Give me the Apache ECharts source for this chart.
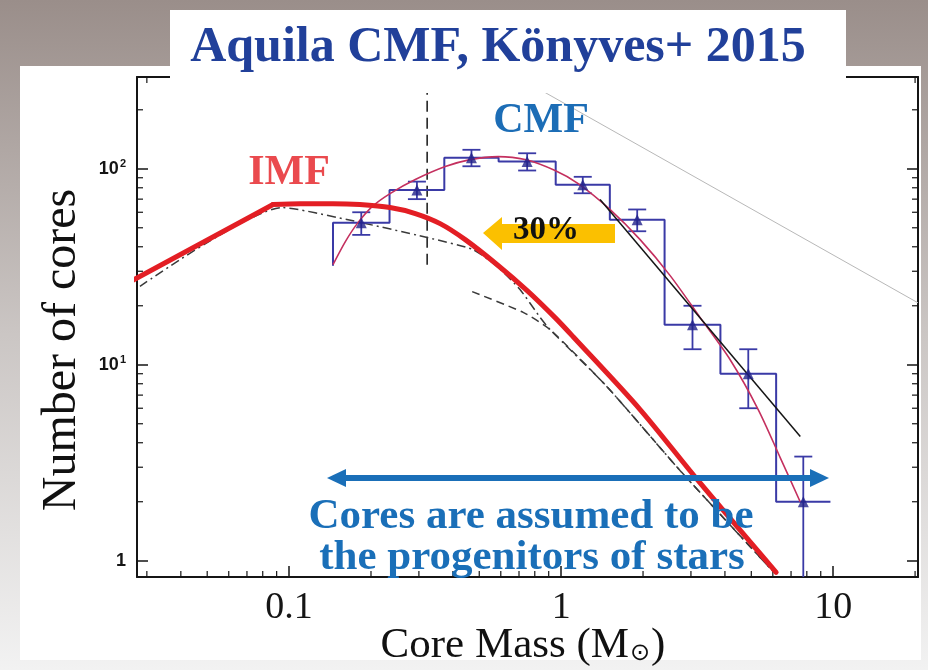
<!DOCTYPE html>
<html>
<head>
<meta charset="utf-8">
<script src="https://cdn.jsdelivr.net/npm/echarts@6/dist/echarts.min.js"></script>
<style>
  html, body { margin: 0; padding: 0; }
  #chart { width: 928px; height: 670px; }
</style>
</head>
<body>
<div id="chart"></div>
<script>
// Aquila prestellar core mass function (CMF) compared with the stellar IMF.

// Histogram: bin edges in solar masses and number of cores per bin
const binEdges  = [0.145, 0.234, 0.372, 0.589, 0.955, 1.51, 2.40, 3.85, 6.17, 9.77];
const binCounts = [53, 78, 114, 109, 83, 55, 16, 9, 2];
const binErrors = [7, 8, 11, 11, 8, 7, 4, 3, 1.4];
// count at which the left edge of the first bin starts
const histStartCount = 32;

// Lognormal fit to the CMF
const fitMass  = [0.145, 0.161, 0.178, 0.202, 0.235, 0.291, 0.375, 0.463, 0.587, 0.737, 0.950, 1.155, 1.514, 1.951, 2.516, 3.244, 4.181, 5.301, 6.385, 7.561];
const fitCount = [32.4, 42.5, 52.5, 64.1, 74.7, 88.1, 102.6, 111.4, 115.4, 111.4, 97.9, 84.0, 61.9, 43.5, 28.5, 17.4, 10.6, 5.91, 3.36, 2.00];

// Power-law fit to the high-mass end of the CMF
const powerMass  = [1.39, 7.57];
const powerCount = [69.7, 4.3];

// Stellar IMF (thick red curve); the first point is the low-mass end, the second the knee
const imfMass  = [0.0256, 0.0873, 0.110, 0.145, 0.182, 0.235, 0.291, 0.359, 0.444, 0.582, 0.750, 0.950, 1.107, 1.951, 3.162, 6.17];
const imfCount = [26.2, 65.7, 66.4, 66.4, 65.7, 63.4, 59.1, 52.5, 43.5, 32.4, 23.9, 17.4, 13.9, 5.91, 2.60, 0.873];
const imfKnee = 1;

// System IMF (dash-dot) and single-star IMF (dashed)
const sysMass   = [0.0283, 0.0942, 0.163, 0.322, 0.474, 0.582, 0.706, 0.838, 0.911, 1.476, 2.74, 6.02];
const sysCount  = [25.1, 63.4, 55.1, 44.6, 38.7, 31.7, 24.2, 17.4, 15.1, 7.71, 2.88, 0.88];
const starMass  = [0.471, 0.725, 0.911, 1.476, 2.74, 6.02];
const starCount = [23.6, 18.5, 15.1, 7.71, 2.88, 0.88];

// Vertical dashed marker (completeness limit)
const limitMass  = 0.3217;
const limitCount = [32.4, 245];

// Faint reference slope in the upper right
const refMass  = [0.873, 20.5];
const refCount = [245, 20.7];

// Axes
const xRange = [0.0276, 20.5];
const yRange = [0.826, 294];
const xTickValues = [0.1, 1, 10];
const xTickLabels = ['0.1', '1', '10'];
const yTickValues = [1, 10, 100];
const yTickLabels = ['{b|1}', '{b|10}{s|1}', '{b|10}{s|2}'];
const xMinorTicks = [0.03, 0.04, 0.05, 0.06, 0.07, 0.08, 0.09, 0.2, 0.3, 0.4, 0.5, 0.6, 0.7, 0.8, 0.9, 2, 3, 4, 5, 6, 7, 8, 9, 20];
const yMinorTicks = [2, 3, 4, 5, 6, 7, 8, 9, 20, 30, 40, 50, 60, 70, 80, 90, 200];

const zip = (a, b) => a.map((v, i) => [v, b[i]]);

// step outline of the histogram
const histLine = [[binEdges[0], histStartCount]];
binCounts.forEach((n, i) => {
  histLine.push([binEdges[i], n]);
  histLine.push([binEdges[i + 1], n]);
});
const binCenters = binCounts.map((n, i) => Math.sqrt(binEdges[i] * binEdges[i + 1]));

const imfPoints = zip(imfMass, imfCount);
const imfRise = imfPoints.slice(0, imfKnee + 1);
const imfFall = imfPoints.slice(imfKnee);

function tickLabel(values, labels) {
  return function (v) {
    for (let i = 0; i < values.length; i++) {
      if (Math.abs(Math.log10(v) - Math.log10(values[i])) < 1e-6) return labels[i];
    }
    return '';
  };
}

const SERIF = '"Liberation Serif", "Times New Roman", serif';
const SANS = '"Liberation Sans", Arial, sans-serif';
const INK = '#151515';
const HIST = '#3a3aa6';
const IMF_RED = '#e31e24';

function frameAxis(range, extra) {
  return Object.assign({
    type: 'log',
    logBase: 10,
    min: range[0],
    max: range[1],
    axisLine: { show: true, onZero: false, lineStyle: { color: INK, width: 2 } },
    axisTick: { show: true, inside: true, length: 11, lineStyle: { color: INK, width: 1.5 } },
    splitLine: { show: false },
    minorTick: { show: false }
  }, extra);
}

const chart = echarts.init(document.getElementById('chart'), null, { renderer: 'canvas' });

const option = {
  animation: false,
  backgroundColor: {
    type: 'linear', x: 0, y: 0, x2: 0, y2: 1,
    colorStops: [
      { offset: 0, color: '#9a8e8a' },
      { offset: 0.5, color: '#cbc6c4' },
      { offset: 1, color: '#f2f2f2' }
    ]
  },
  grid: { left: 137, top: 77, width: 781, height: 500, containLabel: false },
  xAxis: [
    frameAxis(xRange, {
      position: 'bottom',
      axisLabel: {
        formatter: tickLabel(xTickValues, xTickLabels),
        showMinLabel: false, showMaxLabel: false,
        fontFamily: SERIF, fontSize: 38, color: INK, margin: 12
      }
    }),
    frameAxis(xRange, { position: 'top', axisLabel: { show: false } })
  ],
  yAxis: [
    frameAxis(yRange, {
      position: 'left',
      axisLabel: {
        formatter: tickLabel(yTickValues, yTickLabels),
        showMinLabel: false, showMaxLabel: false,
        margin: 11,
        rich: {
          b: { fontFamily: SANS, fontWeight: 'bold', fontSize: 18, color: INK },
          s: { fontFamily: SANS, fontWeight: 'bold', fontSize: 11, color: INK, padding: [0, 0, 10, 1] }
        }
      }
    }),
    frameAxis(yRange, { position: 'right', axisLabel: { show: false } })
  ],
  series: [
    {
      name: 'refSlope', type: 'line', data: zip(refMass, refCount),
      showSymbol: false, lineStyle: { color: '#b8b8b8', width: 1 }, z: 2
    },
    {
      name: 'limit', type: 'line', data: limitCount.map(c => [limitMass, c]),
      showSymbol: false, lineStyle: { color: INK, width: 1.5, type: [11, 6] }, z: 2
    },
    {
      name: 'systemIMF', type: 'line', data: zip(sysMass, sysCount),
      showSymbol: false, smooth: 0.2,
      lineStyle: { color: '#3a3a3a', width: 1.5, type: [9, 4, 2, 4] }, z: 2
    },
    {
      name: 'singleIMF', type: 'line', data: zip(starMass, starCount),
      showSymbol: false, smooth: 0.2,
      lineStyle: { color: '#3a3a3a', width: 1.5, type: [8, 5] }, z: 2
    },
    {
      name: 'CMF', type: 'line', data: histLine,
      showSymbol: false, lineStyle: { color: HIST, width: 2 }, z: 3
    },
    {
      name: 'errors', type: 'custom', silent: true, z: 3,
      data: binCenters.map((c, i) => [c, binCounts[i], binErrors[i]]),
      renderItem: function (params, api) {
        const cs = params.coordSys;
        const c = api.value(0), n = api.value(1), e = api.value(2);
        const top = api.coord([c, n + e]);
        const lowVal = n - e;
        const hasLow = lowVal > yRange[0];
        const bottomY = hasLow ? api.coord([c, lowVal])[1] : cs.y + cs.height;
        const st = { stroke: HIST, lineWidth: 1.8 };
        const children = [
          { type: 'line', shape: { x1: top[0], y1: top[1], x2: top[0], y2: bottomY }, style: st },
          { type: 'line', shape: { x1: top[0] - 9, y1: top[1], x2: top[0] + 9, y2: top[1] }, style: st }
        ];
        if (hasLow) {
          children.push({ type: 'line', shape: { x1: top[0] - 9, y1: bottomY, x2: top[0] + 9, y2: bottomY }, style: st });
        }
        return { type: 'group', children: children };
      }
    },
    {
      name: 'lognormalFit', type: 'line', data: zip(fitMass, fitCount),
      showSymbol: false, smooth: 0.3,
      lineStyle: { color: '#c4305f', width: 1.6 }, z: 4
    },
    {
      name: 'powerLaw', type: 'line', data: zip(powerMass, powerCount),
      showSymbol: false, lineStyle: { color: INK, width: 1.5 }, z: 4
    },
    {
      name: 'cores', type: 'scatter', data: zip(binCenters, binCounts),
      symbol: 'triangle', symbolSize: 11, itemStyle: { color: '#22228a' }, z: 5
    },
    {
      name: 'IMF', type: 'line', data: imfRise,
      showSymbol: false, clip: false,
      lineStyle: { color: IMF_RED, width: 5, join: 'round', cap: 'round' }, z: 10
    },
    {
      name: 'IMF', type: 'line', data: imfFall,
      showSymbol: false, smooth: 0.3, clip: false,
      lineStyle: { color: IMF_RED, width: 5, cap: 'round' }, z: 10
    },
    {
      name: 'xMinor', type: 'custom', silent: true, z: 1,
      data: xMinorTicks.map(v => [v, 1]),
      renderItem: function (params, api) {
        const cs = params.coordSys;
        const x = api.coord([api.value(0), 1])[0];
        const st = { stroke: INK, lineWidth: 1.2 };
        return { type: 'group', children: [
          { type: 'line', shape: { x1: x, y1: cs.y + cs.height, x2: x, y2: cs.y + cs.height - 6 }, style: st },
          { type: 'line', shape: { x1: x, y1: cs.y, x2: x, y2: cs.y + 6 }, style: st }
        ] };
      }
    },
    {
      name: 'yMinor', type: 'custom', silent: true, z: 1,
      data: yMinorTicks.map(v => [1, v]),
      renderItem: function (params, api) {
        const cs = params.coordSys;
        const y = api.coord([1, api.value(1)])[1];
        const st = { stroke: INK, lineWidth: 1.2 };
        return { type: 'group', children: [
          { type: 'line', shape: { x1: cs.x, y1: y, x2: cs.x + 6, y2: y }, style: st },
          { type: 'line', shape: { x1: cs.x + cs.width, y1: y, x2: cs.x + cs.width - 6, y2: y }, style: st }
        ] };
      }
    }
  ],
  graphic: [
    // white slide panel behind the plot
    { type: 'rect', z: -10, shape: { x: 20, y: 66, width: 901, height: 594 }, style: { fill: '#ffffff' } },
    // title banner
    { type: 'rect', z: 100, shape: { x: 170, y: 10, width: 676, height: 83 }, style: { fill: '#ffffff' } },
    { type: 'text', z: 101, x: 498, y: 48, style: {
        text: 'Aquila CMF, Könyves+ 2015', fill: '#21409a',
        fontFamily: SERIF, fontWeight: 'bold', fontSize: 50, align: 'center', verticalAlign: 'middle' } },
    // curve labels
    { type: 'text', z: 101, x: 541, y: 121, style: {
        text: 'CMF', fill: '#1c6db6', fontFamily: SERIF, fontWeight: 'bold', fontSize: 42,
        align: 'center', verticalAlign: 'middle' } },
    { type: 'text', z: 101, x: 289, y: 173, style: {
        text: 'IMF', fill: '#ea4a4e', fontFamily: SERIF, fontWeight: 'bold', fontSize: 42,
        align: 'center', verticalAlign: 'middle' } },
    // 30% shift arrow
    { type: 'polygon', z: 100, shape: { points: [[483, 233], [502, 217], [502, 224], [615, 224], [615, 243], [502, 243], [502, 250]] },
      style: { fill: '#fbc000' } },
    { type: 'text', z: 101, x: 546, y: 230, style: {
        text: '30%', fill: '#111111', fontFamily: SERIF, fontWeight: 'bold', fontSize: 33,
        align: 'center', verticalAlign: 'middle' } },
    // mass range double arrow
    { type: 'line', z: 100, shape: { x1: 343, y1: 478, x2: 812, y2: 478 }, style: { stroke: '#1a6fb8', lineWidth: 6 } },
    { type: 'polygon', z: 100, shape: { points: [[327, 478], [346, 469], [346, 487]] }, style: { fill: '#1a6fb8' } },
    { type: 'polygon', z: 100, shape: { points: [[829, 478], [810, 469], [810, 487]] }, style: { fill: '#1a6fb8' } },
    { type: 'text', z: 101, x: 531, y: 517, style: {
        text: 'Cores are assumed to be', fill: '#1a6fb8', fontFamily: SERIF, fontWeight: 'bold', fontSize: 43,
        align: 'center', verticalAlign: 'middle' } },
    { type: 'text', z: 101, x: 532, y: 558, style: {
        text: 'the progenitors of stars', fill: '#1a6fb8', fontFamily: SERIF, fontWeight: 'bold', fontSize: 43,
        align: 'center', verticalAlign: 'middle' } },
    // axis titles
    { type: 'text', z: 101, x: 62, y: 350, rotation: Math.PI / 2, style: {
        text: 'Number of cores', fill: '#111111', fontFamily: SERIF, fontSize: 48,
        align: 'center', verticalAlign: 'middle' } },
    { type: 'text', z: 101, x: 523, y: 646, style: {
        text: '{m|Core Mass (M}{s|⊙}{m|)}', align: 'center', verticalAlign: 'middle',
        rich: {
          m: { fontFamily: SERIF, fontSize: 43, fill: '#111111', color: '#111111' },
          s: { fontFamily: '"DejaVu Sans", sans-serif', fontSize: 24, fill: '#111111', color: '#111111', padding: [16, 1, 0, 1] }
        } } }
  ]
};

chart.setOption(option);
</script>
</body>
</html>
